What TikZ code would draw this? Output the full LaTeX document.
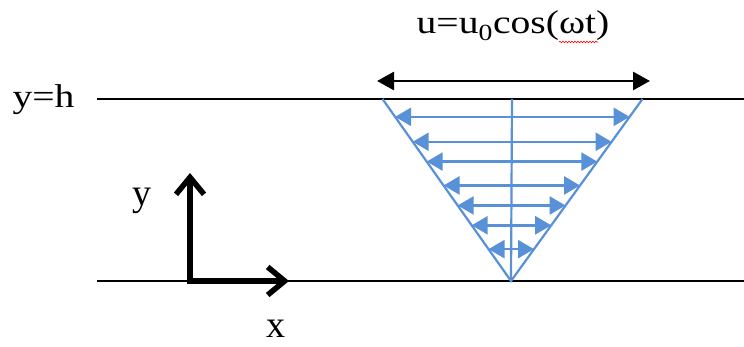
\documentclass[tikz,border=0pt]{standalone}
\usepackage{fontspec}
\setmainfont{Liberation Serif}
\usetikzlibrary{arrows.meta,calc,decorations.pathmorphing}
\definecolor{flowblue}{RGB}{88,145,215}
\tikzset{
  wall/.style={line width=2.2pt, draw=black},
  bluearrow/.style={line width=2.5pt, draw=flowblue, {Triangle[length=16pt,width=18pt,fill=flowblue]}-{Triangle[length=16pt,width=18pt,fill=flowblue]}},
  blueline/.style={line width=2.2pt, draw=flowblue},
  blackarrow/.style={line width=2.8pt, {Triangle[length=17pt,width=18pt]}-{Triangle[length=17pt,width=18pt]}},
  axisarrow/.style={line width=5.5pt, line join=miter, {Straight Barb[length=17pt,width=28pt]}-{Straight Barb[length=17pt,width=28pt]}},
  bigtext/.style={inner sep=0pt, anchor=base, font=\fontsize{33}{38}\selectfont},
  axlabel/.style={inner sep=0pt, anchor=base, font=\fontsize{38}{44}\selectfont},
}
\begin{document}
\begin{tikzpicture}[x=1pt,y=-1pt]
\useasboundingbox (0,0) rectangle (744,347);
% walls
\coordinate (W1a) at (97,99);  \coordinate (W1b) at (744,99);
\coordinate (W2a) at (97,281); \coordinate (W2b) at (744,281);
\draw[wall] (W1a) -- (W1b);
\draw[wall] (W2a) -- (W2b);
% labels
\node[bigtext] (yh) at (43.5,108) {\scalebox{1.2}[1]{y=h}};
\node[bigtext] (title) at (513,34) {\scalebox{1.2}[1]{u=u\textsubscript{0}cos(ωt)}};
\node[axlabel] (ylab) at (142,206) {y};
\node[axlabel] (xlab) at (276,337) {x};
% spell-check squiggle
\coordinate (sq1) at (559,42); \coordinate (sq2) at (598,42);
\draw[red, line width=0.6pt, decorate, decoration={snake, amplitude=0.8pt, segment length=3pt}] (sq1) -- (sq2);
% black oscillation arrow
\coordinate (BA1) at (377,81); \coordinate (BA2) at (650,81);
\draw[blackarrow] (BA1) -- (BA2);
% axes
\coordinate (ytip) at (190,173);
\coordinate (orig) at (190,281);
\coordinate (xtip) at (289,281);
\draw[axisarrow] (ytip) -- (orig) -- (xtip);
% velocity profile
\coordinate (TL) at (382.5,99);
\coordinate (TR) at (642.5,99);
\coordinate (A) at (511,281);
\coordinate (CT) at (512,99);
\draw[blueline] (TL) -- (A) -- (TR);
\draw[blueline] (CT) -- (A);
\foreach \t [count=\i] in {0.098,0.235,0.344,0.475,0.585,0.694,0.825}{
  \coordinate (L\i) at ($(TL)!\t!(A)$);
  \coordinate (R\i) at ($(TR)!\t!(A)$);
  \draw[bluearrow] (L\i) -- (R\i);
}
\end{tikzpicture}
\end{document}
